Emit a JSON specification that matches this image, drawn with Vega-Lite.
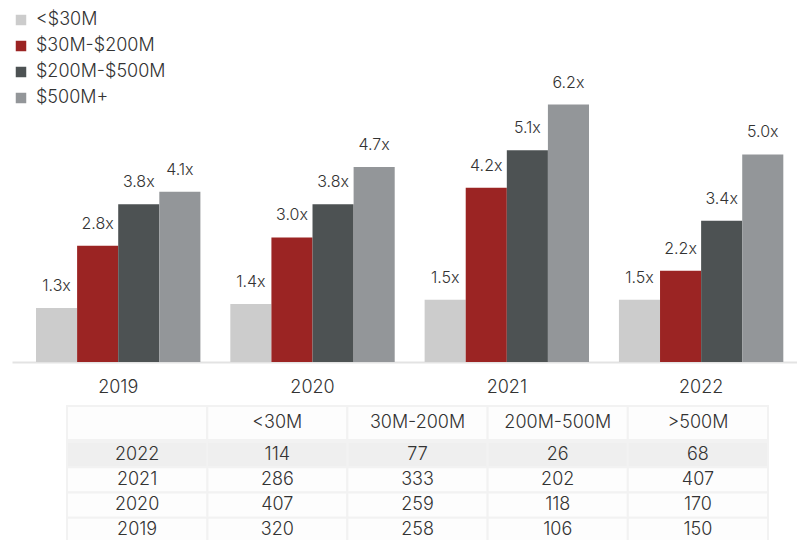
{
  "$schema": "https://vega.github.io/schema/vega-lite/v6.json",
  "padding": {"left": 12, "top": 0, "right": 0, "bottom": 0},
  "background": "white",
  "config": {"font": "Inter", "view": {"stroke": null}},
  "datasets": {
    "multiples": [
      {"Year": "2019", "size": "<$30M", "multiple": 1.3},
      {"Year": "2019", "size": "$30M-$200M", "multiple": 2.8},
      {"Year": "2019", "size": "$200M-$500M", "multiple": 3.8},
      {"Year": "2019", "size": "$500M+", "multiple": 4.1},
      {"Year": "2020", "size": "<$30M", "multiple": 1.4},
      {"Year": "2020", "size": "$30M-$200M", "multiple": 3.0},
      {"Year": "2020", "size": "$200M-$500M", "multiple": 3.8},
      {"Year": "2020", "size": "$500M+", "multiple": 4.7},
      {"Year": "2021", "size": "<$30M", "multiple": 1.5},
      {"Year": "2021", "size": "$30M-$200M", "multiple": 4.2},
      {"Year": "2021", "size": "$200M-$500M", "multiple": 5.1},
      {"Year": "2021", "size": "$500M+", "multiple": 6.2},
      {"Year": "2022", "size": "<$30M", "multiple": 1.5},
      {"Year": "2022", "size": "$30M-$200M", "multiple": 2.2},
      {"Year": "2022", "size": "$200M-$500M", "multiple": 3.4},
      {"Year": "2022", "size": "$500M+", "multiple": 5.0}
    ],
    "deals": [
      {"Year": "2022", "size": "<30M", "deals": 114},
      {"Year": "2022", "size": "30M-200M", "deals": 77},
      {"Year": "2022", "size": "200M-500M", "deals": 26},
      {"Year": "2022", "size": ">500M", "deals": 68},
      {"Year": "2021", "size": "<30M", "deals": 286},
      {"Year": "2021", "size": "30M-200M", "deals": 333},
      {"Year": "2021", "size": "200M-500M", "deals": 202},
      {"Year": "2021", "size": ">500M", "deals": 407},
      {"Year": "2020", "size": "<30M", "deals": 407},
      {"Year": "2020", "size": "30M-200M", "deals": 259},
      {"Year": "2020", "size": "200M-500M", "deals": 118},
      {"Year": "2020", "size": ">500M", "deals": 170},
      {"Year": "2019", "size": "<30M", "deals": 320},
      {"Year": "2019", "size": "30M-200M", "deals": 258},
      {"Year": "2019", "size": "200M-500M", "deals": 106},
      {"Year": "2019", "size": ">500M", "deals": 150}
    ],
    "columns": [
      {"col": "Year", "label": ""},
      {"col": "<30M", "label": "<30M"},
      {"col": "30M-200M", "label": "30M-200M"},
      {"col": "200M-500M", "label": "200M-500M"},
      {"col": ">500M", "label": ">500M"}
    ]
  },
  "spacing": 9,
  "vconcat": [
    {
      "width": 785,
      "height": 362,
      "data": {"name": "multiples"},
      "transform": [{"calculate": "format(datum.multiple, '.1f') + 'x'", "as": "label"}],
      "encoding": {
        "x": {
          "field": "Year", "type": "nominal",
          "scale": {"paddingInner": 0.154, "paddingOuter": 0.097, "align": 0.637},
          "axis": {"title": null, "labelAngle": 0, "ticks": false, "domainColor": "#e3e3e3", "domainWidth": 2, "labelColor": "#333333", "labelFontSize": 18, "labelFontWeight": 300, "labelPadding": 16}
        },
        "xOffset": {
          "field": "size", "type": "nominal",
          "scale": {"domain": ["<$30M", "$30M-$200M", "$200M-$500M", "$500M+"], "paddingInner": 0, "paddingOuter": 0}
        },
        "y": {"field": "multiple", "type": "quantitative", "scale": {"domain": [0, 8.72]}, "axis": null}
      },
      "layer": [
        {
          "mark": {"type": "bar"},
          "encoding": {
            "color": {
              "field": "size", "type": "nominal",
              "scale": {"domain": ["<$30M", "$30M-$200M", "$200M-$500M", "$500M+"], "range": ["#cccccc", "#9b2423", "#4d5253", "#939699"]},
              "legend": {"orient": "none", "legendX": 0, "legendY": 11, "title": null, "symbolType": "square", "symbolSize": 110, "symbolStrokeWidth": 0, "labelFontSize": 18, "labelFontWeight": 300, "labelColor": "#333333", "rowPadding": 8, "labelOffset": 6, "padding": 0}
            }
          }
        },
        {
          "mark": {"type": "text", "baseline": "alphabetic", "dy": -17, "fontSize": 16, "fontWeight": 300, "color": "#333333"},
          "encoding": {"text": {"field": "label"}}
        }
      ]
    },
    {
      "spacing": 0,
      "vconcat": [
        {
          "width": 785,
          "height": 34,
          "data": {"name": "columns"},
          "encoding": {
            "x": {"field": "col", "type": "nominal",
              "scale": {"domain": ["Year", "<30M", "30M-200M", "200M-500M", ">500M"], "paddingInner": 0, "paddingOuter": 0.2995, "align": 0.655},
              "axis": null}
          },
          "layer": [
            {"mark": {"type": "rect", "fill": "#fdfdfd", "stroke": "#f2f2f2", "strokeWidth": 2}, "encoding": {}},
            {"mark": {"type": "text", "fontSize": 18, "fontWeight": 300, "color": "#333333"}, "encoding": {"text": {"field": "label"}}}
          ]
        },
        {
          "width": 785,
          "height": 101,
          "data": {"name": "deals"},
          "encoding": {
            "y": {"field": "Year", "type": "ordinal", "sort": ["2022", "2021", "2020", "2019"], "scale": {"paddingInner": 0, "paddingOuter": 0}, "axis": null}
          },
          "layer": [
            {
              "mark": {"type": "rect", "stroke": "#f2f2f2", "strokeWidth": 2},
              "encoding": {
                "x": {"field": "size", "type": "nominal",
                  "scale": {"domain": ["Year", "<30M", "30M-200M", "200M-500M", ">500M"], "paddingInner": 0, "paddingOuter": 0.2995, "align": 0.655},
                  "axis": null},
                "fill": {"condition": {"test": "datum.Year === '2022'", "value": "#efefef"}, "value": "#fdfdfd"}
              }
            },
            {
              "transform": [{"aggregate": [{"op": "count", "as": "n"}], "groupby": ["Year"]}],
              "mark": {"type": "rect", "stroke": "#f2f2f2", "strokeWidth": 2},
              "encoding": {
                "x": {"datum": "Year", "type": "nominal"},
                "fill": {"condition": {"test": "datum.Year === '2022'", "value": "#efefef"}, "value": "#fdfdfd"}
              }
            },
            {
              "mark": {"type": "text", "fontSize": 18, "fontWeight": 300, "color": "#333333"},
              "encoding": {
                "x": {"field": "size", "type": "nominal"},
                "text": {"field": "deals", "type": "quantitative"}
              }
            },
            {
              "transform": [{"aggregate": [{"op": "count", "as": "n"}], "groupby": ["Year"]}],
              "mark": {"type": "text", "fontSize": 18, "fontWeight": 300, "color": "#333333"},
              "encoding": {
                "x": {"datum": "Year", "type": "nominal"},
                "text": {"field": "Year", "type": "nominal"}
              }
            }
          ]
        }
      ]
    }
  ]
}
